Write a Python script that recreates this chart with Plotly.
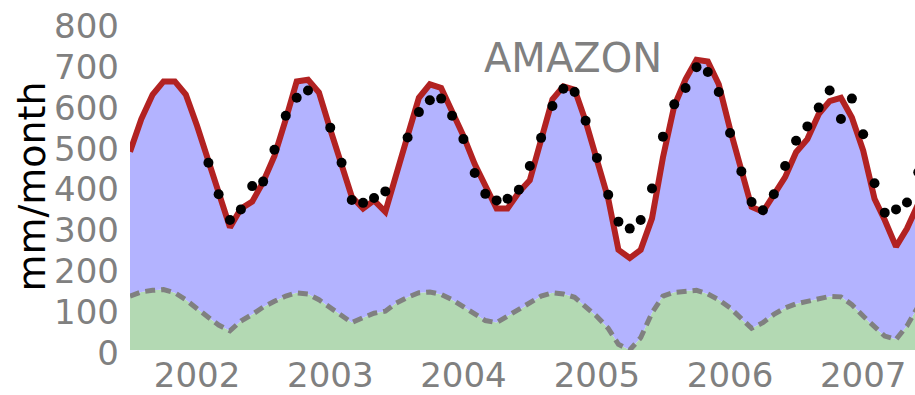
import pandas as pd
import plotly.graph_objects as go

# Monthly series, July 2001 onward
months = pd.date_range("2001-07-01", periods=72, freq="MS")

# Modelled total (upper bound of the blue band), mm/month
model_total = [
    485, 565, 625, 657, 657, 625, 548, 460, 382, 300, 346, 363,
    411, 475, 564, 657, 661, 630, 540, 448, 375, 346, 366, 338,
    435, 524, 617, 650, 641, 585, 524, 455, 399, 346, 346, 386,
    415, 516, 613, 645, 637, 560, 467, 370, 245, 225, 245, 322,
    471, 597, 662, 710, 706, 650, 540, 443, 350, 338, 378, 423,
    484, 516, 577, 609, 617, 569, 488, 370, 318, 253, 297, 358,
]

# Lower component (green area, dashed outline), mm/month
model_base = [
    132, 142, 146, 148, 140, 123, 101, 81, 61, 47, 71, 87,
    105, 119, 132, 140, 137, 123, 103, 83, 67, 79, 90, 95,
    115, 129, 140, 142, 136, 123, 105, 89, 72, 67, 83, 97,
    115, 132, 140, 137, 129, 107, 82, 53, 14, 0, 30, 91,
    132, 141, 145, 146, 137, 123, 103, 75, 53, 67, 87, 103,
    113, 119, 126, 131, 130, 111, 83, 55, 34, 26, 59, 107,
]

# Observed values (None = no observation)
observed = [
    None, None, None, None, None, None, None, 458, 381, 318, 344, 401,
    412, 490, 573, 617, 635, None, 544, 458, 367, 360, 372, 388,
    None, 520, 582, 611, 615, 573, 516, 433, 382, 366, 370, 392,
    450, 519, 597, 639, 631, 561, 470, 380, 314, 297, 318, 395,
    522, 601, 641, 692, 680, 631, 531, 437, 362, 342, 381, 450,
    512, 547, 593, 635, 565, 615, 528, 408, 336, 344, 361, 435,
]

year_ticks = pd.to_datetime([f"{y}-01-01" for y in range(2002, 2008)])
year_labels = [str(y) for y in range(2002, 2008)]
y_ticks = list(range(0, 801, 100))

GREEN_FILL = "rgb(179,217,179)"
BLUE_FILL = "rgb(179,179,255)"
RED = "#b22222"
GREY = "#808080"
FONT = "DejaVu Sans"

fig = go.Figure()

# Filled areas first so that the outlines sit on top
fig.add_trace(go.Scatter(
    x=months, y=model_base, mode="lines", line=dict(width=0),
    fill="tozeroy", fillcolor=GREEN_FILL, hoverinfo="skip", showlegend=False,
))
fig.add_trace(go.Scatter(
    x=months, y=model_total, mode="lines", line=dict(width=0),
    fill="tonexty", fillcolor=BLUE_FILL, hoverinfo="skip", showlegend=False,
))

# Outlines
fig.add_trace(go.Scatter(
    x=months, y=model_base, mode="lines",
    line=dict(color=GREY, width=5, dash="10px,6px"), showlegend=False,
))
fig.add_trace(go.Scatter(
    x=months, y=model_total, mode="lines",
    line=dict(color=RED, width=6), showlegend=False,
))

# Observations
fig.add_trace(go.Scatter(
    x=months, y=observed, mode="markers",
    marker=dict(color="black", size=10), showlegend=False,
))

fig.add_annotation(
    text="AMAZON", xref="paper", yref="paper", x=0.5646, y=0.894,
    xanchor="center", yanchor="middle", showarrow=False,
    font=dict(family=FONT, size=40, color=GREY),
)

# Vertical axis title
fig.add_annotation(
    text="mm/month", xref="paper", yref="paper", x=-0.126, y=0.5,
    xanchor="center", yanchor="middle", textangle=-90, showarrow=False,
    font=dict(family=FONT, size=38, color="black"),
)

fig.update_layout(
    width=915, height=395,
    margin=dict(l=130, r=0, t=23, b=42, pad=0),
    paper_bgcolor="white", plot_bgcolor="white",
    font=dict(family=FONT),
)
fig.update_xaxes(
    range=[pd.Timestamp("2001-07-01"), pd.Timestamp("2007-05-23")],
    tickvals=year_ticks, ticktext=year_labels,
    tickfont=dict(size=34, color=GREY),
    showgrid=False, zeroline=False, showline=False,
    ticks="", ticklabelstandoff=2,
)
fig.update_yaxes(
    range=[0, 800], tickvals=y_ticks,
    tickfont=dict(size=34, color=GREY),
    showgrid=False, zeroline=False, showline=False,
    ticks="", ticklabelstandoff=10, ticklabelshift=3,
)

fig.write_html("out.html")
